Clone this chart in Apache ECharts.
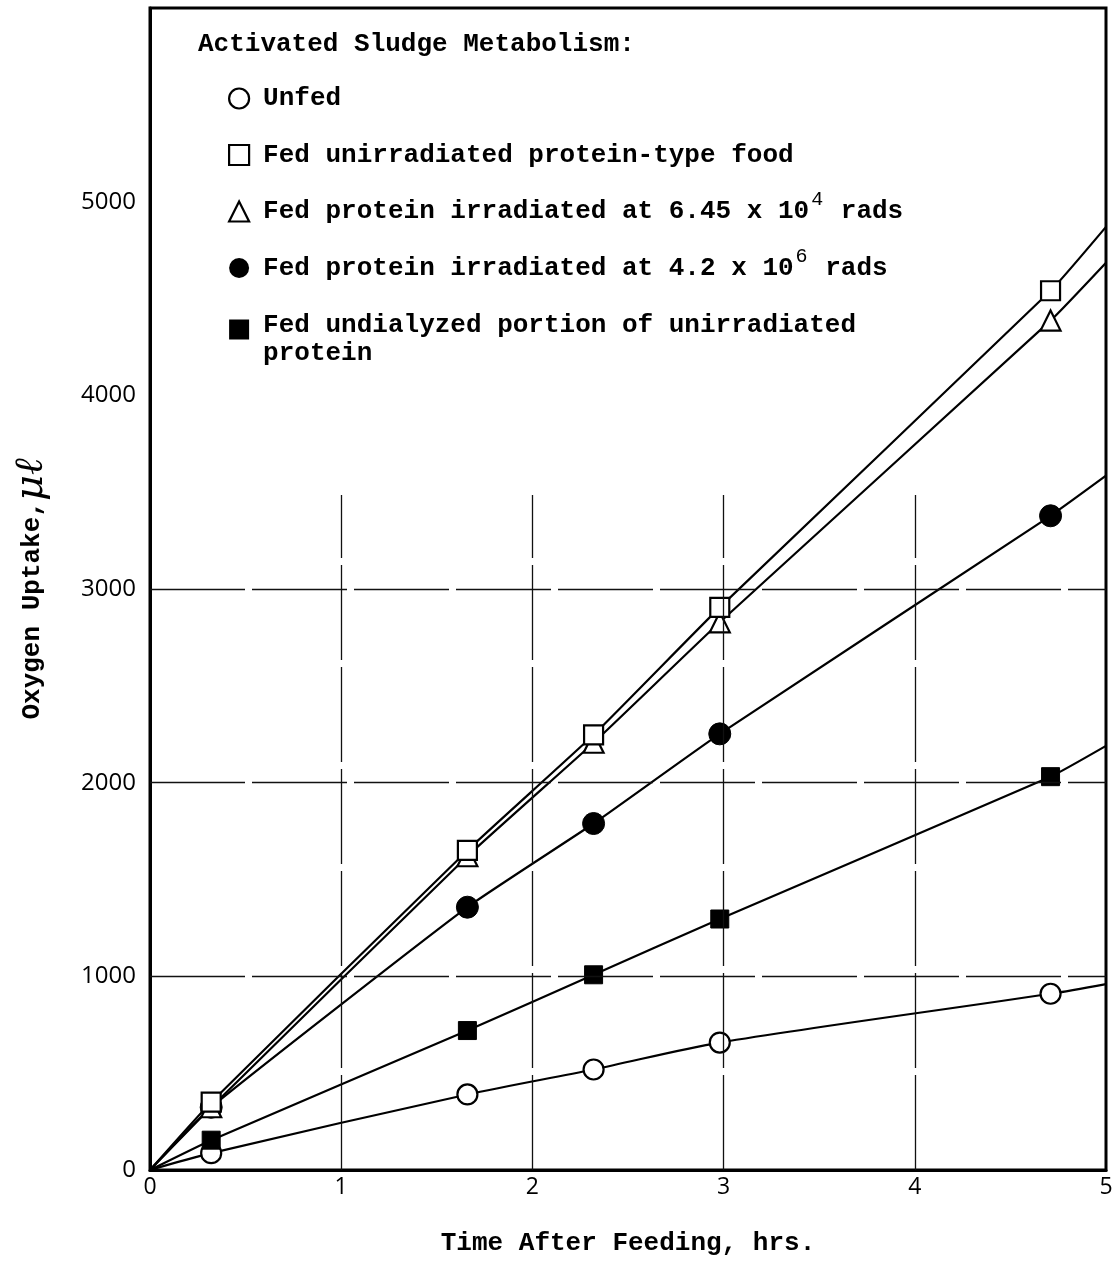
<!DOCTYPE html>
<html>
<head>
<meta charset="utf-8">
<script src="https://cdn.jsdelivr.net/npm/echarts@6/dist/echarts.min.js"></script>
<style>
html,body{margin:0;padding:0;background:#fff;}
#chart{width:1116px;height:1261px;}
</style>
</head>
<body>
<div id="chart"></div>
<script>
// ---- data ----
const times = [0.32, 1.66, 2.32, 2.98, 4.71];
const unfed = [87, 390, 519, 658, 910];
const fedUnirradiated = [350, 1650, 2247, 2905, 4540];
const fedIrr645e4 = [324, 1620, 2206, 2828, 4386];
const fedIrr42e6 = [324, 1357, 1789, 2252, 3378];
const fedUndialyzed = [154, 720, 1008, 1296, 2031];
// fitted curves: value where each drawn curve meets the right edge (t = 5)
const curveEndTime = 5;
const curveEnds = {unfed: 960, fedUnirradiated: 4870, fedIrr645e4: 4685, fedIrr42e6: 3585, fedUndialyzed: 2190};
const xTicks = [0, 1, 2, 3, 4, 5];
const yTicks = [0, 1000, 2000, 3000, 4000, 5000];
const gridYValues = [1000, 2000, 3000];
const gridXValues = [1, 2, 3, 4];
const gridXTop = 3486;

const names = {
  unfed: 'Unfed',
  fedUnirradiated: 'Fed unirradiated protein-type food',
  fedIrr645e4: 'Fed protein irradiated at 6.45 x 10^4 rads',
  fedIrr42e6: 'Fed protein irradiated at 4.2 x 10^6 rads',
  fedUndialyzed: 'Fed undialyzed portion of unirradiated\nprotein'
};

function curve(vals, endVal) {
  const d = [{value: [0, 0], symbol: 'none'}];
  times.forEach((t, i) => d.push({value: [t, vals[i]]}));
  d.push({value: [curveEndTime, endVal], symbol: 'none'});
  return d;
}

const mono = 'Liberation Mono';
const chart = echarts.init(document.getElementById('chart'), null, {renderer: 'canvas'});

const markGrid = {
  silent: true,
  symbol: 'none',
  label: {show: false},
  lineStyle: {color: '#111', width: 1.3, type: [95, 7]},
  data: gridYValues.map(v => [{coord: [0, v]}, {coord: [5, v]}])
    .concat(gridXValues.map(v => [{coord: [v, 0]}, {coord: [v, gridXTop]}]))
};

function ser(key, symbol, size, filled, smooth) {
  return {
    name: names[key],
    type: 'line',
    data: curve({unfed, fedUnirradiated, fedIrr645e4, fedIrr42e6, fedUndialyzed}[key], curveEnds[key]),
    symbol: symbol,
    symbolSize: size,
    smooth: smooth,
    lineStyle: {color: '#000', width: 2.2},
    itemStyle: filled ? {color: '#000', borderColor: '#000', borderWidth: 1} : {color: '#fff', borderColor: '#000', borderWidth: 2.2},
    emphasis: {disabled: true},
    z: 3
  };
}

const series = [
  ser('unfed', 'circle', 20, false, 0.3),
  ser('fedUndialyzed', 'rect', 18, true, 0.15),
  ser('fedIrr42e6', 'circle', 22, true, 0.15),
  ser('fedIrr645e4', 'triangle', 20, false, 0.15),
  ser('fedUnirradiated', 'rect', 19, false, 0.15)
];
series[0].markLine = markGrid;

const legendItem = (key, icon, filled) => ({
  name: names[key], icon: icon,
  itemStyle: filled ? {color: '#000', borderColor: '#000', borderWidth: 0} : {color: '#fff', borderColor: '#000', borderWidth: 2.2}
});

const txt = {fontFamily: mono, fontSize: 26, fontWeight: 'bold', color: '#000'};

chart.setOption({
  animation: false,
  backgroundColor: '#fff',
  title: {
    text: 'Activated Sludge Metabolism:',
    left: 193, top: 26,
    textStyle: txt
  },
  legend: {
    orient: 'vertical',
    left: 223, top: 72,
    itemWidth: 20, itemHeight: 20,
    itemGap: 13.5,
    selectedMode: false,
    data: [
      legendItem('unfed', 'circle', false),
      legendItem('fedUnirradiated', 'rect', false),
      legendItem('fedIrr645e4', 'triangle', false),
      legendItem('fedIrr42e6', 'circle', true),
      legendItem('fedUndialyzed', 'rect', true)
    ],
    formatter: function (n) {
      const m = n.match(/^(.*10)\^(\d)(.*)$/);
      if (m) return '{t|' + m[1] + '}{s|' + m[2] + '}{t|' + m[3] + '}';
      const lines = n.split('\n');
      if (lines.length === 2) return '{p|' + lines[0] + '}\n{q|' + lines[1] + '}';
      return '{t|' + n + '}';
    },
    textStyle: Object.assign({}, txt, {
      lineHeight: 43,
      padding: [0, 0, 0, 9],
      rich: {
        t: Object.assign({}, txt, {lineHeight: 43}),
        p: Object.assign({}, txt, {lineHeight: 37, padding: [8, 0, 0, 0]}),
        q: Object.assign({}, txt, {lineHeight: 16, verticalAlign: 'top'}),
        s: {fontFamily: mono, fontSize: 20, fontWeight: 'normal', color: '#000', lineHeight: 8, verticalAlign: 'top', padding: [0, 2, 0, 2]}
      }
    })
  },
  grid: {
    left: 150, right: 10, top: 8, bottom: 88,
    show: true, borderColor: '#000', borderWidth: 3, backgroundColor: 'transparent'
  },
  xAxis: {
    type: 'value', min: 0, max: 5, interval: 1,
    name: 'Time After Feeding, hrs.',
    nameLocation: 'middle', nameGap: 60,
    nameTextStyle: txt,
    axisLine: {show: true, lineStyle: {color: '#000', width: 3}},
    axisTick: {show: false},
    splitLine: {show: false},
    axisLabel: {
      fontFamily: 'Open Sans', fontSize: 23, color: '#000', margin: 6,
      formatter: v => xTicks.indexOf(v) >= 0 ? String(v) : ''
    }
  },
  yAxis: {
    type: 'value', min: 0, max: 6000, interval: 1000,
    name: '{a|Oxygen Uptake,}{b|μℓ}',
    nameLocation: 'middle', nameGap: 98,
    nameTextStyle: {
      rich: {
        a: txt,
        b: {fontFamily: 'DejaVu Serif', fontSize: 40, fontStyle: 'italic', color: '#000'}
      }
    },
    axisLine: {show: true, lineStyle: {color: '#000', width: 3}},
    axisTick: {show: false},
    splitLine: {show: false},
    axisLabel: {
      fontFamily: 'Open Sans', fontSize: 24, color: '#000', margin: 14,
      formatter: v => yTicks.indexOf(v) >= 0 ? String(v) : ''
    }
  },
  series: series
});
</script>
</body>
</html>
